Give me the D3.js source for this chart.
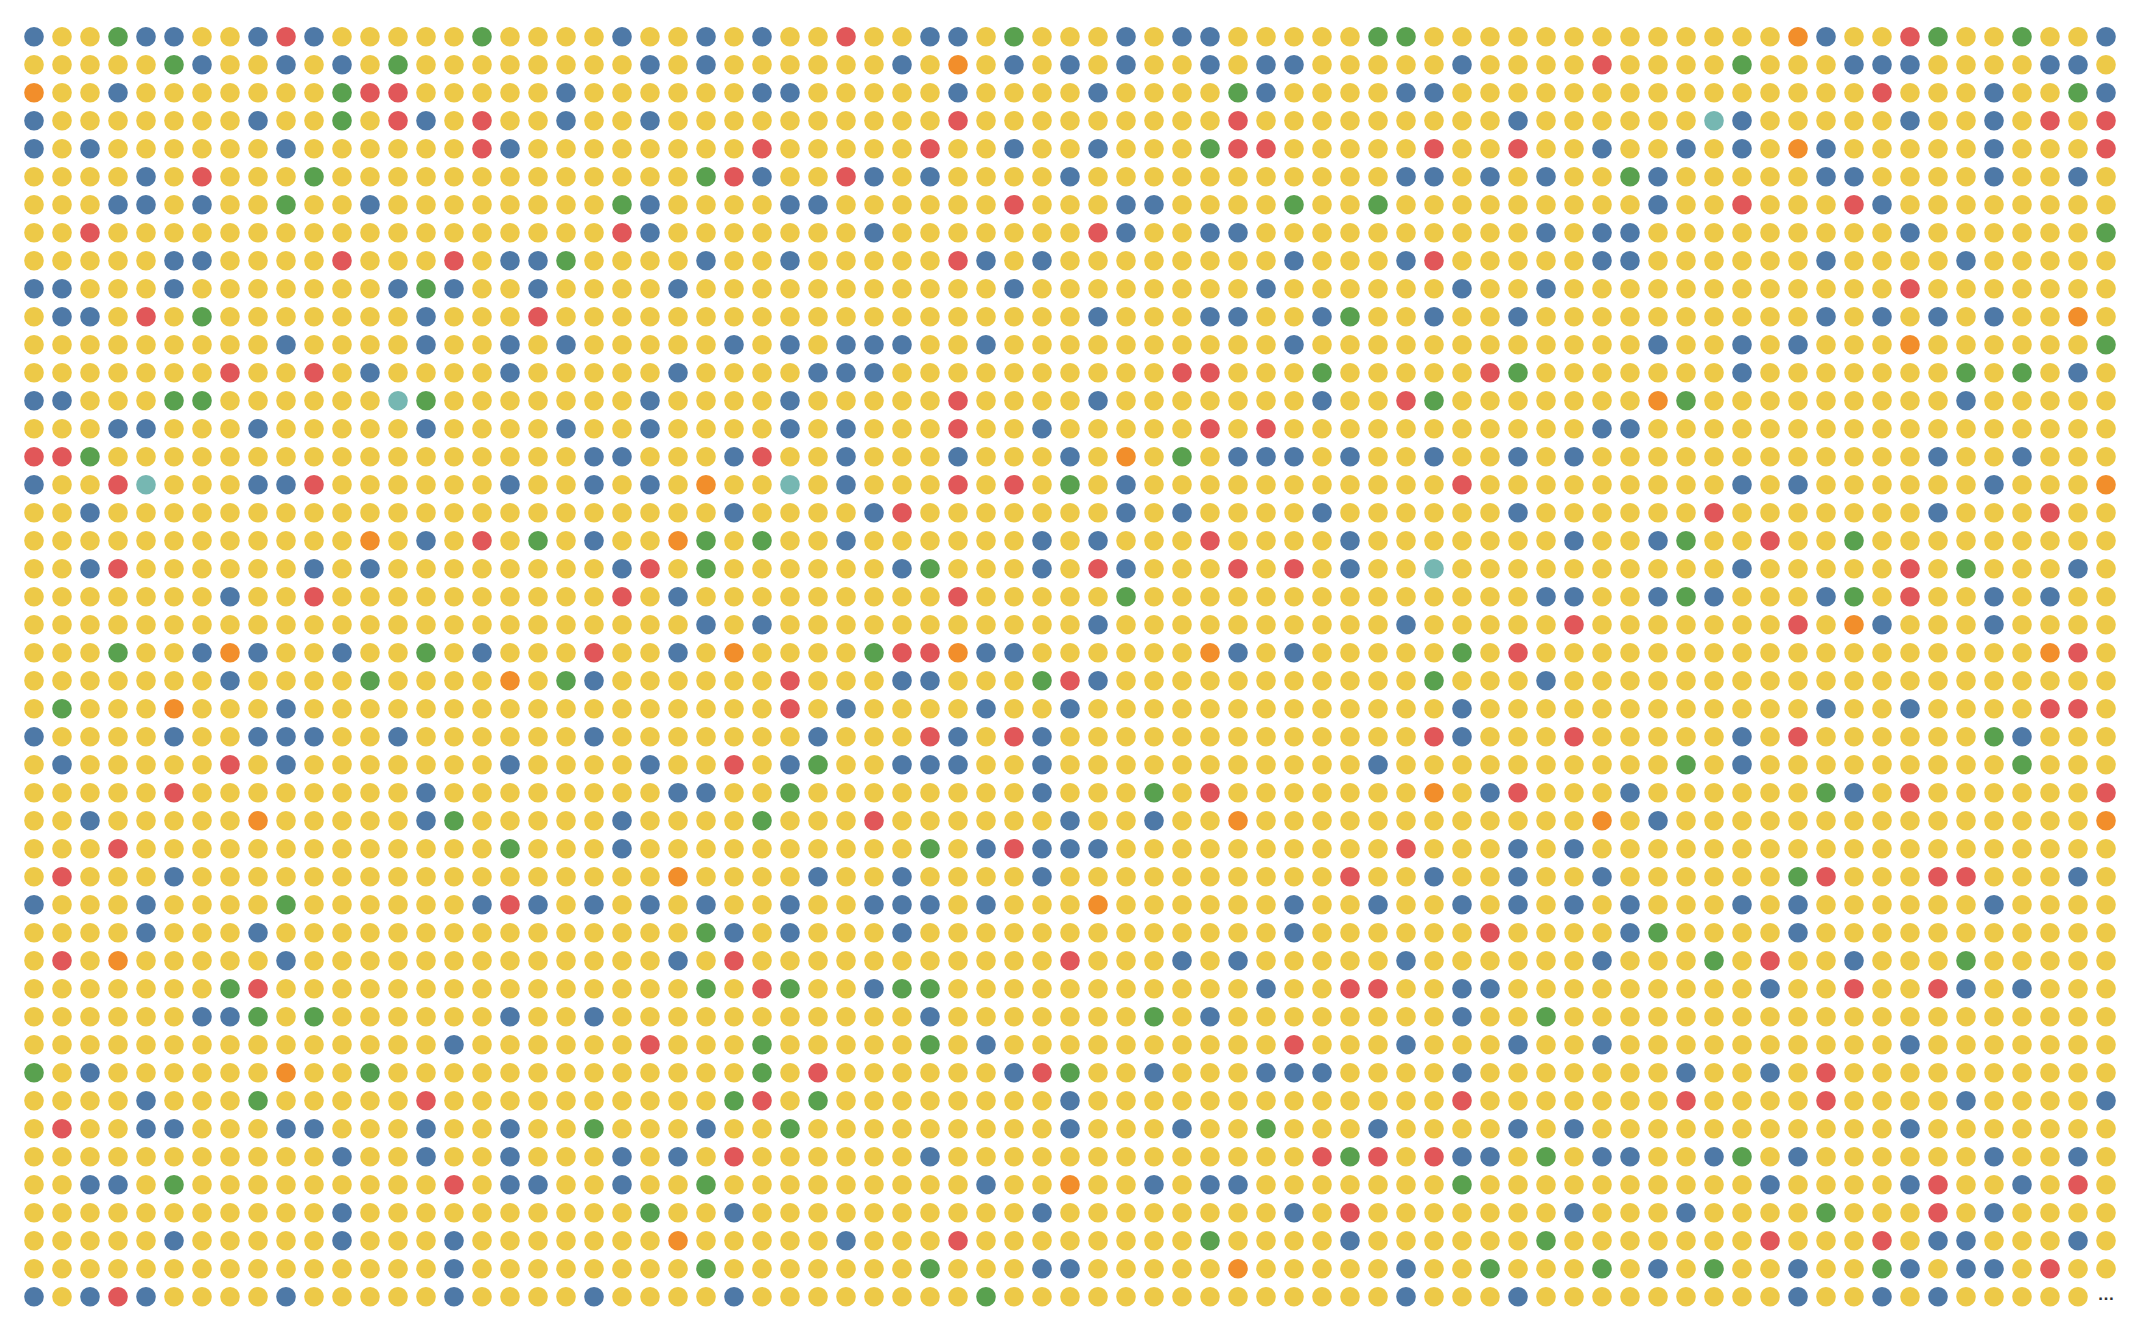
<html>
<head>
<meta charset="utf-8">
<title>Dot grid</title>
<style>
  body { margin: 0; background: #fff; }
  .more { font-family: "Liberation Sans", Arial, sans-serif; font-weight: bold; }
</style>
</head>
<body>
<script src="https://d3js.org/d3.v7.min.js"></script>
<script>
// category codes and their colours (one letter per dot in the rows below)
var categories = ["y", "b", "g", "r", "o", "t"];
var colors = ["#edc948", "#4e79a7", "#59a14f", "#e15759", "#f28e2b", "#76b7b2"];

// one string per row, read left to right, top to bottom
var rows = [
  "byygbbyybrbyyyyygy" + "yyybyybybyyryybbygyy" + "ybybbyyyyyggyyyyyyy" + "yyyyyyobyyrgyygyyb",
  "yyyyygbyybybygyyyy" + "yyyybybyyyyyybyoybyb" + "ybyybybbyyyyybyyyyr" + "yyyygyyybbbyyyybby",
  "oyybyyyyyyygrryyyy" + "ybyyyyyybbyyyyybyyyy" + "byyyygbyyyybbyyyyyy" + "yyyyyyyyyryyybyygb",
  "byyyyyyybyygyrbyry" + "ybyybyyyyyyyyyyryyyy" + "yyyyyryyyyyyyyybyyy" + "yyytbyyyyybyybyryr",
  "bybyyyyyybyyyyyyrb" + "yyyyyyyyryyyyyryybyy" + "byyygrryyyyyryyryyb" + "yybybyobyyyyybyyyr",
  "yyyybyryyygyyyyyyy" + "yyyyyygrbyyrbybyyyyb" + "yyyyyyyyyyybbybybyy" + "gbyyyyybbyyyybyyby",
  "yyybbybyygyybyyyyy" + "yyygbyyyybbyyyyyyryy" + "ybbyyyygyygyyyyyyyy" + "ybyyryyyrbyyyyyyyy",
  "yyryyyyyyyyyyyyyyy" + "yyyrbyyyyyyybyyyyyyy" + "rbyybbyyyyyyyyyybyb" + "byyyyyyyyybyyyyyyg",
  "yyyyybbyyyyryyyryb" + "bgyyyybyybyyyyyrbyby" + "yyyyyyybyyybryyyyyb" + "byyyyyybyyyybyyyyy",
  "bbyyybyyyyyyybgbyy" + "byyyybyyyyyyyyyyybyy" + "yyyyyybyyyyyybyybyy" + "yyyyyyyyyyryyyyyyy",
  "ybbyrygyyyyyyybyyy" + "ryyyyyyyyyyyyyyyyyyy" + "byyybbyybgyybyybyyy" + "yyyyyyybybybybyyoy",
  "yyyyyyyyybyyyybyyb" + "ybyyyyybybybbbyybyyy" + "yyyyyyybyyyyyyyyyyy" + "ybyybybyyyoyyyyyyg",
  "yyyyyyyryyrybyyyyb" + "yyyyybyyyybbbyyyyyyy" + "yyyrryyygyyyyyrgyyy" + "yyyybyyyyyyygygyby",
  "bbyyyggyyyyyytgyyy" + "yyyybyyyybyyyyyryyyy" + "byyyyyyybyyrgyyyyyy" + "yogyyyyyyyyybyyyyy",
  "yyybbyyybyyyyybyyy" + "ybyybyyyybybyyyryyby" + "yyyyryryyyyyyyyyyyb" + "byyyyyyyyyyyyyyyyy",
  "rrgyyyyyyyyyyyyyyy" + "yybbyyybryybyyybyyyb" + "yoygybbbybyybyybyby" + "yyyyyyyyyyybyybyyy",
  "byyrtyyybbryyyyyyb" + "yybybyoyytybyyyryryg" + "ybyyyyyyyyyyyryyyyy" + "yyyybybyyyyyybyyyo",
  "yybyyyyyyyyyyyyyyy" + "yyyyyyybyyyybryyyyyy" + "ybybyyyybyyyyyybyyy" + "yyyryyyyyyybyyyryy",
  "yyyyyyyyyyyyoybyry" + "gybyyogygyybyyyyyyby" + "byyyryyyybyyyyyyyby" + "ybgyyryygyyyyyyyyy",
  "yybryyyyyybybyyyyy" + "yyybrygyyyyyybgyyyby" + "rbyyyryrybyytyyyyyy" + "yyyybyyyyyrygyyyby",
  "yyyyyyybyyryyyyyyy" + "yyyrybyyyyyyyyyryyyy" + "ygyyyyyyyyyyyyyybby" + "ybgbyyybgyryybybyy",
  "yyyyyyyyyyyyyyyyyy" + "yyyyyybybyyyyyyyyyyy" + "byyyyyyyyyybyyyyyry" + "yyyyyyryobyyybyyyy",
  "yyygyybobyybyygyby" + "yyryybyoyyyygrrobbyy" + "yyyyobybyyyyygyryyy" + "yyyyyyyyyyyyyyyory",
  "yyyyyyybyyyygyyyyo" + "ygbyyyyyyryyybbyyygr" + "byyyyyyyyyyygyyybyy" + "yyyyyyyyyyyyyyyyyy",
  "ygyyyoyyybyyyyyyyy" + "yyyyyyyyyrybyyyybyyb" + "yyyyyyyyyyyyybyyyyy" + "yyyyyyybyybyyyyrry",
  "byyyybyybbbyybyyyy" + "yybyyyyyyybyyyrbyrby" + "yyyyyyyyyyyyrbyyyry" + "yyyybyryyyyyygbyyy",
  "ybyyyyyrybyyyyyyyb" + "yyyybyyrybgyybbbyyby" + "yyyyyyyyyybyyyyyyyy" + "yygybyyyyyyyyygyyy",
  "yyyyyryyyyyyyybyyy" + "yyyyybbyygyyyyyyyyby" + "yygyryyyyyyyoybryyy" + "byyyyyygbyryyyyyyr",
  "yybyyyyyoyyyyybgyy" + "yyybyyyygyyyryyyyyyb" + "yybyyoyyyyyyyyyyyyo" + "ybyyyyyyyyyyyyyyyo",
  "yyyryyyyyyyyyyyyyg" + "yyybyyyyyyyyyygybrbb" + "byyyyyyyyyyryyybyby" + "yyyyyyyyyyyyyyyyyy",
  "yryyybyyyyyyyyyyyy" + "yyyyyoyyyybyybyyyyby" + "yyyyyyyyyryybyybyyb" + "yyyyyygryyyrryyyby",
  "byyybyyyygyyyyyybr" + "bybybybyybyybbbybyyy" + "oyyyyyybyybyybybyby" + "byyybybyyyyyybyyyy",
  "yyyybyyybyyyyyyyyy" + "yyyyyygbybyyybyyyyyy" + "yyyyyyybyyyyyyryyyy" + "bgyyyybyyyyyyyyyyy",
  "yryoyyyyybyyyyyyyy" + "yyyyybyryyyyyyyyyyyr" + "yyybybyyyyybyyyyyyb" + "yyygyryybyyygyyyyy",
  "yyyyyyygryyyyyyyyy" + "yyyyyygyrgyybggyyyyy" + "yyyyyybyyrryybbyyyy" + "yyyyybyyryyrbybyyy",
  "yyyyyybbgygyyyyyyb" + "yybyyyyyyyyyyybyyyyy" + "yygybyyyyyyyybyygyy" + "yyyyyyyyyyyyyyyyyy",
  "yyyyyyyyyyyyyyybyy" + "yyyyryyygyyyyygybyyy" + "yyyyyyyryyybyyybyyb" + "yyyyyyyyyybyyyyyyy",
  "gybyyyyyyoyygyyyyy" + "yyyyyyyygyryyyyyybrg" + "yybyyybbbyyyybyyyyy" + "yybyybyryyyyyyyyyy",
  "yyyybyyygyyyyyryyy" + "yyyyyyygrygyyyyyyyyb" + "yyyyyyyyyyyyyryyyyy" + "yyryyyyryyyybyyyyb",
  "yryybbyyybbyyybyyb" + "yygyyybyygyyyyyyyyyb" + "yyybyygyyybyyyybyby" + "yyyyyyyyyybyyyyyyy",
  "yyyyyyyyyyybyybyyb" + "yyybybyryyyyyybyyyyy" + "yyyyyyyyrgryrbbygyb" + "byybgybyyyyyybyyby",
  "yybbygyyyyyyyyyryb" + "byybyygyyyyyyyyybyyo" + "yybybbyyyyyyygyyyyy" + "yyyyybyyyybryybyry",
  "yyyyyyyyyyybyyyyyy" + "yyyygyybyyyyyyyyyyby" + "yyyyyyybyryyyyyyyby" + "yybyyyygyyyrybyyyy",
  "yyyyybyyyyybyyybyy" + "yyyyyoyyyyybyyyryyyy" + "yyyygyyyybyyyyyygyy" + "yyyyyryyyrybbyyyby",
  "yyyyyyyyyyyyyyybyy" + "yyyyyygyyyyyyygyyybb" + "yyyyyoyyyyybyygyyyg" + "ybygyybyygbybbyryy",
  "bybrbyyyybyyyyybyy" + "yybyyyybyyyyyyyygyyy" + "yyyyyyyyyyybyyybyyy" + "yyyyyybyybybyyyyy"
];
var moreLabel = "…";

var width = 2146, height = 1341;
var nCols = 75, nRows = rows.length;

var svg = d3.select("body").append("svg")
    .attr("width", width)
    .attr("height", height);

// dot positions
var x = d3.scalePoint().domain(d3.range(nCols)).range([34, 34 + 28 * (nCols - 1)]);
var y = d3.scalePoint().domain(d3.range(nRows)).range([36.7, 36.7 + 28 * (nRows - 1)]);
var color = d3.scaleOrdinal().domain(categories).range(colors);

var dots = [];
rows.forEach(function(row, r) {
  row.split("").forEach(function(c, k) {
    dots.push({row: r, col: k, cat: c});
  });
});

svg.append("g")
  .selectAll("circle")
  .data(dots)
  .join("circle")
    .attr("cx", function(d) { return x(d.col); })
    .attr("cy", function(d) { return y(d.row); })
    .attr("r", 9.8)
    .attr("fill", function(d) { return color(d.cat); });

// "more" marker in the last cell
svg.append("text")
    .attr("class", "more")
    .attr("x", x(nCols - 1))
    .attr("y", y(nRows - 1) + 3)
    .attr("text-anchor", "middle")
    .style("font-size", "17px")
    .style("fill", "#333")
    .text(moreLabel);
</script>
</body>
</html>
